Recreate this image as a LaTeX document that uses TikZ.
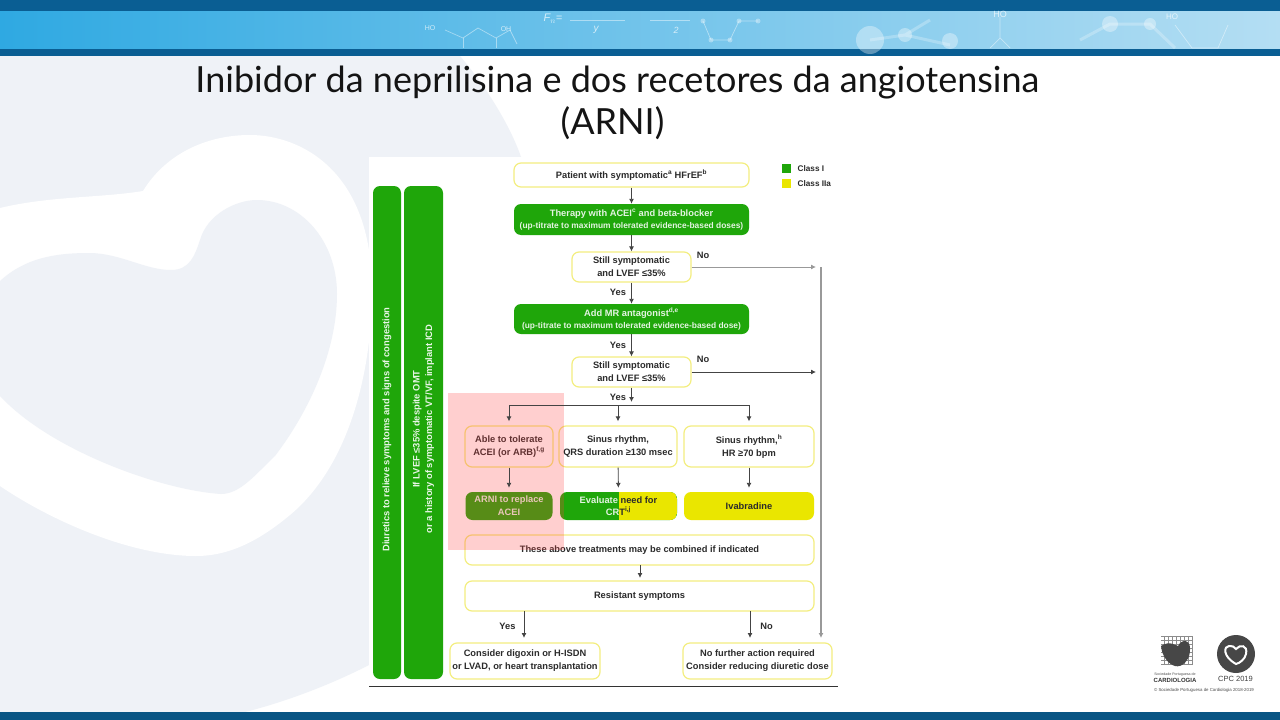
\documentclass[tikz,border=0pt]{standalone}
\usepackage{fontspec}
\setmainfont{Liberation Sans}
\newfontfamily\titlefont{Lato}
\usetikzlibrary{arrows.meta}
\definecolor{barblue}{HTML}{0A5E93}
\definecolor{lightband}{HTML}{2FA9E2}
\definecolor{paleband}{HTML}{B4DEF3}
\definecolor{classgreen}{HTML}{1FA60A}
\definecolor{classyellow}{HTML}{EAE600}
\definecolor{boxedge}{HTML}{F3EE80}
\definecolor{bgpale}{HTML}{EFF2F7}
\definecolor{linegray}{HTML}{444444}
\definecolor{txtdark}{HTML}{2B2B2B}
\tikzset{
  boxbase/.style={rounded corners=7pt,minimum height=#1,inner sep=0pt,align=center,
    font=\fontsize{9.3}{13}\selectfont\bfseries},
  whitebox/.style={boxbase=#1,draw=boxedge,line width=1.2pt,fill=white,text=txtdark},
  greenbox/.style={boxbase=#1,fill=classgreen,text=white!88!classgreen},
  yellowbox/.style={boxbase=#1,fill=classyellow,text=txtdark},
  link/.style={draw=linegray,line width=.9pt,-{Latex[length=5pt,width=5pt]}},
  plainlink/.style={draw=linegray,line width=.9pt},
  lab/.style={font=\fontsize{9.3}{11}\selectfont\bfseries,text=txtdark,inner sep=0pt},
  bartext/.style={rotate=90,align=center,text=white!90!classgreen,inner sep=0pt,
    font=\fontsize{9.4}{12.5}\selectfont\bfseries},
  molecule/.style={draw=white,opacity=.45,line width=.7pt},
  atom/.style={circle,fill=white,opacity=.35,inner sep=0pt},
  bandtext/.style={text=white,opacity=.7,inner sep=0pt}
}
\begin{document}
\begin{tikzpicture}[x=1pt,y=-1pt]
  \useasboundingbox (0,0) rectangle (1280,720);
  \fill[white] (0,0) rectangle (1280,720);

  % page background
  \fill[bgpale] (0,56) -- (460,56) .. controls (485,85) and (510,125) .. (521,157)
    -- (369,400) -- (369,665) .. controls (330,685) and (285,702) .. (245,712) -- (0,712) -- cycle;
  \fill[white] (0,208) .. controls (50,196) and (100,198) .. (143,191)
    .. controls (165,155) and (205,135) .. (250,135)
    .. controls (300,135) and (372,170) .. (372,290)
    .. controls (372,370) and (350,465) .. (290,515)
    .. controls (260,540) and (230,556) .. (196,556)
    .. controls (130,556) and (50,520) .. (0,486) -- cycle;
  \fill[bgpale] (0,281) .. controls (25,258) and (55,253) .. (89,253)
    .. controls (120,253) and (145,270) .. (171,270)
    .. controls (190,270) and (195,255) .. (200,240)
    .. controls (207,215) and (235,200) .. (257,200)
    .. controls (300,200) and (337,240) .. (337,294)
    .. controls (337,350) and (310,410) .. (275,456)
    .. controls (255,475) and (240,494) .. (221,494)
    .. controls (160,490) and (50,450) .. (0,396) -- cycle;

  % header and footer bands
  \fill[barblue] (0,0) rectangle (1280,56);
  \shade[left color=lightband,right color=paleband] (0,11) rectangle (1280,48);
  \fill[barblue!90!black] (0,712) rectangle (1280,720);
  \draw[molecule] (445,30) -- (463,38) -- (478,28) -- (496,38) -- (510,30) -- (517,44);
  \draw[molecule] (496,38) -- (496,48) (463,38) -- (463,48);
  \node[bandtext,font=\fontsize{7}{8}\selectfont] (hoa) at (430,28) {HO};
  \node[bandtext,font=\fontsize{7}{8}\selectfont] (oha) at (506,29) {OH};
  \node[bandtext,font=\itshape\fontsize{11}{11}\selectfont] (fna) at (553,19) {F$_n$=};
  \draw[molecule] (570,20) -- (625,20) (650,20) -- (690,20);
  \node[bandtext,font=\itshape\fontsize{10}{10}\selectfont] (ya) at (596,30) {y};
  \node[bandtext,font=\itshape\fontsize{9}{9}\selectfont] (twoa) at (676,30) {2};
  \draw[molecule] (703,21) -- (711,40) -- (730,40) -- (739,21) -- (758,21);
  \node[atom,minimum size=5pt] at (703,21) {};
  \node[atom,minimum size=5pt] at (711,40) {};
  \node[atom,minimum size=5pt] at (730,40) {};
  \node[atom,minimum size=5pt] at (739,21) {};
  \node[atom,minimum size=5pt] at (758,21) {};
  \draw[molecule,line width=3pt,opacity=.25] (870,40) -- (905,35) -- (930,20) (905,35) -- (950,45)
    (1080,40) -- (1110,24) -- (1150,24) -- (1175,48);
  \node[atom,minimum size=28pt] at (870,40) {};
  \node[atom,minimum size=14pt] at (905,35) {};
  \node[atom,minimum size=16pt] at (950,41) {};
  \node[atom,minimum size=16pt] at (1110,24) {};
  \node[atom,minimum size=12pt] at (1150,24) {};
  \draw[molecule] (1000,17) -- (1000,38) -- (990,48) (1000,38) -- (1010,48)
    (1175,25) -- (1192,48) -- (1218,48) -- (1228,25);
  \node[bandtext,font=\fontsize{9}{9}\selectfont] (hob) at (1000,14) {HO};
  \node[bandtext,font=\fontsize{8}{9}\selectfont] (hoc) at (1172,17) {HO};

  % title
  \node[font=\titlefont\fontsize{36}{42}\selectfont,align=center,text=black!92,inner sep=0pt]
    (title) at (617.5,103) {Inibidor da neprilisina e dos recetores da angiotensina\\(ARNI)\hspace*{10pt}};

  % figure sheet
  \fill[white] (369,157) rectangle (838,687);
  \draw[line width=1.2pt,draw=black!80] (369,686.5) -- (838,686.5);

  % side bars
  \node[fill=classgreen,rounded corners=7pt,minimum width=28pt,minimum height=493pt,inner sep=0pt] (bar1) at (387,432.5) {};
  \node[fill=classgreen,rounded corners=7pt,minimum width=39pt,minimum height=493pt,inner sep=0pt] (bar2) at (423.5,432.5) {};
  \node[bartext] (bar1text) at (387,429.5) {Diuretics to relieve symptoms and signs of congestion};
  \node[bartext] (bar2text) at (423.5,429) {If LVEF ≤35\% despite OMT\\or a history of symptomatic VT/VF, implant ICD};

  % flow boxes
  \node[whitebox=24pt,minimum width=235pt] (patient) at (631.5,175) {Patient with symptomatic\textsuperscript{a} HFrEF\textsuperscript{b}};
  \node[greenbox=31pt,minimum width=235pt] (therapy) at (631.5,219.5) {Therapy with ACEI\textsuperscript{c} and beta-blocker\\[-1pt]{\fontsize{8.4}{11}\selectfont (up-titrate to maximum tolerated evidence-based doses)}};
  \node[whitebox=30pt,minimum width=119pt] (still1) at (631.5,267) {Still symptomatic\\and LVEF ≤35\%};
  \node[greenbox=30pt,minimum width=235pt] (mra) at (631.5,319) {Add MR antagonist\textsuperscript{d,e}\\[-1pt]{\fontsize{8.4}{11}\selectfont (up-titrate to maximum tolerated evidence-based dose)}};
  \node[whitebox=30pt,minimum width=119pt] (still2) at (631.5,372) {Still symptomatic\\and LVEF ≤35\%};
  \node[whitebox=41pt,minimum width=88pt] (able) at (509,446.5) {Able to tolerate\\ACEI (or ARB)\textsuperscript{f,g}};
  \node[whitebox=41pt,minimum width=118pt] (sinus1) at (618,446.5) {Sinus rhythm,\\QRS duration ≥130 msec};
  \node[whitebox=41pt,minimum width=130pt] (sinus2) at (749,446.5) {Sinus rhythm,\textsuperscript{h}\\HR ≥70 bpm};
  \node[greenbox=28pt,minimum width=87pt] (arni) at (509,506) {ARNI to replace\\ACEI};
  \node[greenbox=28pt,minimum width=117pt,path picture={
      \fill[classyellow,sharp corners] (path picture bounding box.south) rectangle (path picture bounding box.north east);}] (crt) at (618.5,506) {};
  \node[lab,align=center,text=white!88!classgreen,font=\fontsize{9.3}{12.5}\selectfont\bfseries] (crttext) at (618.5,506) {Evaluate \textcolor{txtdark}{need for}\\CR\textcolor{txtdark}{T\textsuperscript{i,j}}};
  \node[yellowbox=28pt,minimum width=130pt] (ivab) at (749,506) {Ivabradine};
  \node[whitebox=30pt,minimum width=349pt] (combined) at (639.5,550) {These above treatments may be combined if indicated};
  \node[whitebox=30pt,minimum width=349pt] (resistant) at (639.5,596) {Resistant symptoms};
  \node[whitebox=36pt,minimum width=150pt] (digoxin) at (525,661) {Consider digoxin or H-ISDN\\or LVAD, or heart transplantation};
  \node[whitebox=36pt,minimum width=149pt] (nofurther) at (757.5,661) {No further action required\\Consider reducing diuretic dose};

  % red highlight over the first column
  \fill[red!75!white,opacity=.25] (448,393) rectangle (564,550);

  % legend
  \node[fill=classgreen,minimum size=9pt,inner sep=0pt] (keygreen) at (786.5,168) {};
  \node[fill=classyellow,minimum size=9pt,inner sep=0pt] (keyyellow) at (786.5,183.5) {};
  \node[lab,anchor=west,font=\fontsize{8.2}{9}\selectfont\bfseries] (keyI) at (797.5,168.5) {Class I};
  \node[lab,anchor=west,font=\fontsize{8.2}{9}\selectfont\bfseries] (keyII) at (797.5,184) {Class IIa};

  % free ends of the connectors
  \coordinate (stem) at (631.5,402);
  \coordinate (forkL) at (509,405);
  \coordinate (forkM) at (618,405);
  \coordinate (forkR) at (749,405);
  \coordinate (end1) at (816,267);
  \coordinate (end2) at (816,372);
  \coordinate (railtop) at (821,267);
  \coordinate (railend) at (821,638);
  \coordinate (outyes) at (524,611);
  \coordinate (inyes) at (524,638);
  \coordinate (outno) at (750,611);
  \coordinate (inno) at (750,638);
  \coordinate (midtop) at (640,565);
  \coordinate (midend) at (640,578);

  \foreach \from/\to in {patient/therapy,therapy/still1,still1/mra,mra/still2}
    \draw[link] (\from) -- (\to);
  \draw[link] (still2.south) -- (stem);
  \draw[plainlink] (forkL) -- (forkR);
  \foreach \from/\to in {forkL/able,forkM/sinus1,forkR/sinus2}
    \draw[link,shorten >=4pt] (\from) -- (\to);
  \foreach \from/\to in {able/arni,sinus1/crt,sinus2/ivab}
    \draw[link,shorten >=4pt] (\from) -- (\to);
  \draw[link] (midtop) -- (midend);
  \draw[link] (outyes) -- (inyes);
  \draw[link] (outno) -- (inno);
  \draw[link,draw=gray!80] (still1.east) -- (end1);
  \draw[link] (still2.east) -- (end2);
  \draw[link,draw=gray!80,line width=1.3pt] (railtop) -- (railend);

  % connector labels
  \node[lab] (no1) at (703,255) {No};
  \node[lab] (yes1) at (618,292) {Yes};
  \node[lab] (yes2) at (618,345) {Yes};
  \node[lab] (no2) at (703,359) {No};
  \node[lab] (yes3) at (618,397) {Yes};
  \node[lab] (yes4) at (507.5,626) {Yes};
  \node[lab] (no3) at (766.5,626) {No};

  % logos
  \fill[black!72] (1236,654) circle (19pt);
  \draw[white,line width=2pt,fill=black!72] (1236,664) .. controls (1222,656) and (1224,646) .. (1229,646)
    .. controls (1232,645) and (1234,647) .. (1236,649)
    .. controls (1240,644) and (1248,645) .. (1246,654) .. controls (1245,659) and (1240,663) .. (1236,664) -- cycle;
  \node[font=\fontsize{7.5}{9}\selectfont,text=black!75,inner sep=0pt] (cpc) at (1235.5,679) {CPC 2019};
  \draw[black!45,line width=.3pt,step=4pt] (1161,636) grid (1193,665);
  \fill[black!72] (1161,646) .. controls (1170,640) and (1176,646) .. (1178,646)
    .. controls (1182,638) and (1191,640) .. (1190,650)
    .. controls (1190,660) and (1182,668) .. (1175,666) .. controls (1168,664) and (1162,656) .. (1161,646) -- cycle;
  \node[font=\fontsize{3.6}{4}\selectfont,text=black!70,inner sep=0pt] (spc1) at (1175,674.5) {Sociedade Portuguesa de};
  \node[font=\fontsize{6}{7}\selectfont\bfseries,text=black!80,inner sep=0pt] (spc2) at (1175,680.5) {CARDIOLOGIA};
  \node[font=\fontsize{4.35}{5}\selectfont,text=black!70,inner sep=0pt] (spc3) at (1204,690.5) {© Sociedade Portuguesa de Cardiologia 2018-2019};
\end{tikzpicture}
\end{document}
